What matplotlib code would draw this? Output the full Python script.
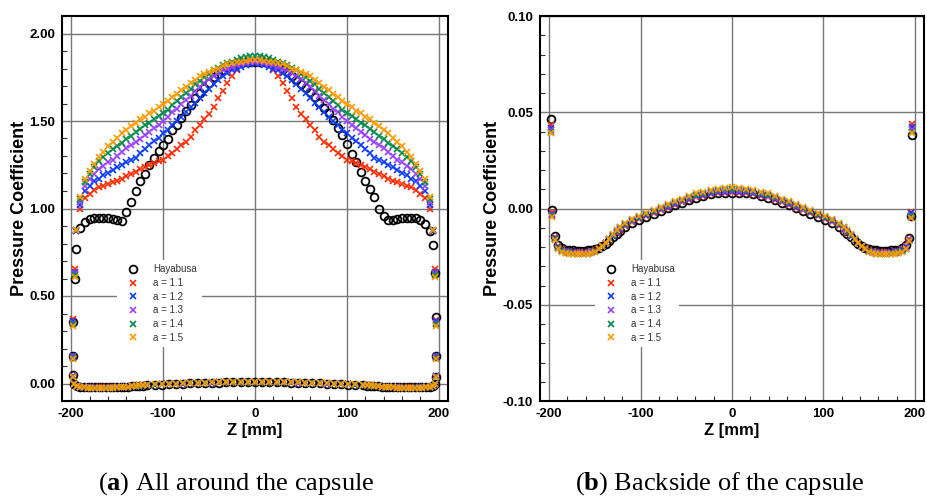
import matplotlib
matplotlib.use('Agg')
import matplotlib.pyplot as plt
from matplotlib.ticker import MultipleLocator, FormatStrFormatter

plt.rcParams['font.family'] = ['Liberation Sans', 'DejaVu Sans']
plt.rcParams['axes.unicode_minus'] = False
plt.rcParams['mathtext.fontset'] = 'custom'
plt.rcParams['mathtext.rm'] = 'Liberation Serif'
plt.rcParams['mathtext.bf'] = 'Liberation Serif:bold'

# ---------------- data ----------------
labels = ['Hayabusa', 'a = 1.1', 'a = 1.2', 'a = 1.3', 'a = 1.4', 'a = 1.5']
colors = ['black', '#ff2a00', '#0a3cff', '#9a40ff', '#00894a', '#ff9a00']

# front (heat shield) mesh, Z [mm]
z_front = list(range(-190, 195, 5))

haya_front = [0.89, 0.925, 0.94, 0.945, 0.946, 0.946, 0.945, 0.94, 0.935, 0.93,
              0.98, 1.04, 1.10, 1.16, 1.20, 1.25, 1.29, 1.33, 1.36, 1.40,
              1.45, 1.48, 1.52, 1.56, 1.59, 1.63, 1.66, 1.69, 1.72, 1.75,
              1.77, 1.79, 1.81, 1.82, 1.83, 1.835, 1.84, 1.84, 1.84,
              1.84, 1.84, 1.835, 1.83, 1.82, 1.80, 1.78, 1.76, 1.735, 1.71,
              1.69, 1.665, 1.635, 1.605, 1.575, 1.545, 1.505, 1.46, 1.42, 1.37,
              1.31, 1.265, 1.21, 1.16, 1.11, 1.065, 1.00, 0.96, 0.933, 0.935,
              0.94, 0.945, 0.946, 0.946, 0.945, 0.935, 0.91, 0.87]
a11_front = [1.00, 1.06, 1.085, 1.105, 1.12, 1.13, 1.14, 1.15, 1.16, 1.17,
             1.185, 1.20, 1.21, 1.225, 1.24, 1.25, 1.26, 1.27, 1.28, 1.30,
             1.32, 1.34, 1.36, 1.38, 1.41, 1.45, 1.48, 1.51, 1.54, 1.58,
             1.63, 1.67, 1.72, 1.76, 1.79, 1.82, 1.84, 1.85, 1.85,
             1.85, 1.84, 1.82, 1.79, 1.76, 1.72, 1.67, 1.63, 1.58, 1.54,
             1.51, 1.48, 1.45, 1.41, 1.38, 1.36, 1.34, 1.32, 1.30, 1.28,
             1.27, 1.26, 1.25, 1.24, 1.225, 1.21, 1.20, 1.185, 1.17, 1.16,
             1.15, 1.14, 1.13, 1.12, 1.105, 1.085, 1.06, 1.00]
a12_front = [1.02, 1.10, 1.13, 1.155, 1.17, 1.19, 1.205, 1.22, 1.235, 1.25,
             1.265, 1.275, 1.29, 1.315, 1.34, 1.36, 1.385, 1.405, 1.43, 1.45,
             1.475, 1.50, 1.525, 1.55, 1.58, 1.605, 1.63, 1.66, 1.685, 1.71,
             1.735, 1.76, 1.775, 1.79, 1.80, 1.81, 1.82, 1.825, 1.83,
             1.825, 1.82, 1.81, 1.80, 1.79, 1.775, 1.76, 1.735, 1.71, 1.685,
             1.66, 1.63, 1.605, 1.58, 1.55, 1.525, 1.50, 1.475, 1.45, 1.43,
             1.405, 1.385, 1.36, 1.34, 1.315, 1.29, 1.275, 1.265, 1.25, 1.235,
             1.22, 1.205, 1.19, 1.17, 1.155, 1.13, 1.10, 1.02]
a13_front = [1.04, 1.13, 1.17, 1.20, 1.225, 1.245, 1.265, 1.28, 1.30, 1.325,
             1.345, 1.36, 1.38, 1.40, 1.42, 1.44, 1.46, 1.48, 1.50, 1.525,
             1.55, 1.57, 1.595, 1.62, 1.645, 1.67, 1.695, 1.715, 1.74, 1.76,
             1.775, 1.79, 1.80, 1.81, 1.82, 1.825, 1.83, 1.835, 1.835,
             1.835, 1.83, 1.825, 1.82, 1.81, 1.80, 1.79, 1.775, 1.76, 1.74,
             1.715, 1.695, 1.67, 1.645, 1.62, 1.595, 1.57, 1.55, 1.525, 1.50,
             1.48, 1.46, 1.44, 1.42, 1.40, 1.38, 1.36, 1.345, 1.325, 1.30,
             1.28, 1.265, 1.245, 1.225, 1.20, 1.17, 1.13, 1.04]
a14_front = [1.055, 1.15, 1.20, 1.235, 1.27, 1.295, 1.315, 1.34, 1.355, 1.375,
             1.395, 1.415, 1.435, 1.455, 1.475, 1.49, 1.51, 1.53, 1.545, 1.565,
             1.59, 1.615, 1.64, 1.66, 1.685, 1.71, 1.73, 1.75, 1.77, 1.79,
             1.805, 1.82, 1.83, 1.84, 1.85, 1.86, 1.865, 1.87, 1.87,
             1.87, 1.865, 1.86, 1.85, 1.84, 1.83, 1.82, 1.805, 1.79, 1.77,
             1.75, 1.73, 1.71, 1.685, 1.66, 1.64, 1.615, 1.59, 1.565, 1.545,
             1.53, 1.51, 1.49, 1.475, 1.455, 1.435, 1.415, 1.395, 1.375, 1.355,
             1.34, 1.315, 1.295, 1.27, 1.235, 1.20, 1.15, 1.055]
a15_front = [1.065, 1.17, 1.215, 1.255, 1.295, 1.325, 1.355, 1.38, 1.405, 1.43,
             1.45, 1.47, 1.49, 1.51, 1.525, 1.545, 1.56, 1.58, 1.595, 1.615,
             1.635, 1.655, 1.675, 1.695, 1.715, 1.735, 1.755, 1.77, 1.78, 1.79,
             1.80, 1.815, 1.825, 1.83, 1.835, 1.84, 1.845, 1.85, 1.85,
             1.85, 1.845, 1.84, 1.835, 1.83, 1.825, 1.815, 1.80, 1.79, 1.78,
             1.77, 1.755, 1.735, 1.715, 1.695, 1.675, 1.655, 1.635, 1.615, 1.595,
             1.58, 1.56, 1.545, 1.525, 1.51, 1.49, 1.47, 1.45, 1.43, 1.405,
             1.38, 1.355, 1.325, 1.295, 1.255, 1.215, 1.17, 1.065]

# shoulder points (back -> front)
z_sh_left = [-196.5, -197.8, -198.2, -197.8, -196.0, -194.3]
z_sh_right = [195.8, 196.8, 197.3, 197.2, 196.0, 194.2]
haya_sh_l = [-0.0009, 0.0465, 0.155, 0.350, 0.595, 0.770]
a11_sh_l = [-0.0020, 0.0435, 0.160, 0.368, 0.655, 0.870]
a12_sh_l = [-0.0030, 0.0420, 0.155, 0.355, 0.640, 0.872]
a13_sh_l = [-0.0035, 0.0410, 0.150, 0.345, 0.630, 0.875]
a14_sh_l = [-0.0040, 0.0400, 0.145, 0.338, 0.620, 0.877]
a15_sh_l = [-0.0045, 0.0392, 0.140, 0.328, 0.607, 0.880]
haya_sh_r = [-0.0040, 0.0382, 0.155, 0.380, 0.630, 0.790]
a11_sh_r = [-0.0017, 0.0438, 0.160, 0.365, 0.652, 0.870]
a12_sh_r = [-0.0025, 0.0422, 0.155, 0.355, 0.640, 0.872]
a13_sh_r = [-0.0032, 0.0410, 0.150, 0.345, 0.630, 0.875]
a14_sh_r = [-0.0040, 0.0400, 0.145, 0.338, 0.620, 0.877]
a15_sh_r = [-0.0048, 0.0391, 0.140, 0.328, 0.610, 0.880]

# backside mesh, Z [mm]
z_back = [-194, -190, -186, -182, -178, -174, -170, -166, -162, -158,
          -154, -150, -146, -142, -138, -134, -130, -126, -122,
          -117, -109.2, -101.4, -93.6, -85.8, -78, -70.2, -62.4, -54.6, -46.8,
          -39, -31.2, -23.4, -15.6, -7.8, 0, 7.8, 15.6, 23.4, 31.2, 39,
          46.8, 54.6, 62.4, 70.2, 78, 85.8, 93.6, 101.4, 109.2, 117,
          122, 126, 130, 134, 138, 142, 146, 150, 154, 158,
          162, 166, 170, 174, 178, 182, 186, 190, 194]

haya_back = [-0.0142, -0.0190, -0.0207, -0.0213, -0.0216, -0.0218, -0.0219, -0.0219, -0.0219, -0.0218,
             -0.0216, -0.0212, -0.0205, -0.0195, -0.0182, -0.0167, -0.0150, -0.0132, -0.0115,
             -0.0097, -0.0077, -0.0060, -0.0043, -0.0028, -0.0013, 0.0001, 0.0017, 0.0030, 0.0044,
             0.0056, 0.0065, 0.0073, 0.0078, 0.0081, 0.0082, 0.0081, 0.0078, 0.0073, 0.0065, 0.0056,
             0.0044, 0.0030, 0.0017, 0.0001, -0.0013, -0.0028, -0.0043, -0.0060, -0.0077, -0.0097,
             -0.0115, -0.0132, -0.0150, -0.0167, -0.0182, -0.0195, -0.0205, -0.0212, -0.0216, -0.0218,
             -0.0219, -0.0219, -0.0219, -0.0218, -0.0216, -0.0213, -0.0207, -0.0192, -0.0155]
a11_back = [-0.0150, -0.0195, -0.0212, -0.0219, -0.0222, -0.0224, -0.0225, -0.0225, -0.0225, -0.0224,
            -0.0221, -0.0216, -0.0207, -0.0195, -0.0180, -0.0163, -0.0145, -0.0127, -0.0110,
            -0.0092, -0.0072, -0.0055, -0.0039, -0.0024, -0.0010, 0.0004, 0.0019, 0.0032, 0.0046,
            0.0058, 0.0067, 0.0075, 0.0080, 0.0083, 0.0084, 0.0083, 0.0080, 0.0075, 0.0067, 0.0058,
            0.0046, 0.0032, 0.0019, 0.0004, -0.0010, -0.0024, -0.0039, -0.0055, -0.0072, -0.0092,
            -0.0110, -0.0127, -0.0145, -0.0163, -0.0180, -0.0195, -0.0207, -0.0216, -0.0221, -0.0224,
            -0.0225, -0.0225, -0.0225, -0.0224, -0.0222, -0.0219, -0.0212, -0.0197, -0.0160]
a12_back = [-0.0155, -0.0200, -0.0217, -0.0223, -0.0226, -0.0228, -0.0229, -0.0229, -0.0229, -0.0228,
            -0.0225, -0.0219, -0.0209, -0.0196, -0.0180, -0.0162, -0.0143, -0.0124, -0.0106,
            -0.0087, -0.0067, -0.0050, -0.0034, -0.0019, -0.0005, 0.0009, 0.0024, 0.0037, 0.0051,
            0.0063, 0.0072, 0.0080, 0.0085, 0.0088, 0.0089, 0.0088, 0.0085, 0.0080, 0.0072, 0.0063,
            0.0051, 0.0037, 0.0024, 0.0009, -0.0005, -0.0019, -0.0034, -0.0050, -0.0067, -0.0087,
            -0.0106, -0.0124, -0.0143, -0.0162, -0.0180, -0.0196, -0.0209, -0.0219, -0.0225, -0.0228,
            -0.0229, -0.0229, -0.0229, -0.0228, -0.0226, -0.0223, -0.0217, -0.0202, -0.0163]
a13_back = [-0.0158, -0.0203, -0.0220, -0.0226, -0.0229, -0.0231, -0.0232, -0.0232, -0.0232, -0.0231,
            -0.0227, -0.0221, -0.0210, -0.0196, -0.0179, -0.0160, -0.0140, -0.0121, -0.0102,
            -0.0083, -0.0063, -0.0046, -0.0030, -0.0015, -0.0001, 0.0013, 0.0028, 0.0041, 0.0055,
            0.0067, 0.0077, 0.0085, 0.0090, 0.0093, 0.0094, 0.0093, 0.0090, 0.0085, 0.0077, 0.0067,
            0.0055, 0.0041, 0.0028, 0.0013, -0.0001, -0.0015, -0.0030, -0.0046, -0.0063, -0.0083,
            -0.0102, -0.0121, -0.0140, -0.0160, -0.0179, -0.0196, -0.0210, -0.0221, -0.0227, -0.0231,
            -0.0232, -0.0232, -0.0232, -0.0231, -0.0229, -0.0226, -0.0220, -0.0205, -0.0166]
a14_back = [-0.0160, -0.0206, -0.0223, -0.0229, -0.0232, -0.0234, -0.0235, -0.0235, -0.0235, -0.0234,
            -0.0230, -0.0223, -0.0211, -0.0196, -0.0178, -0.0158, -0.0137, -0.0117, -0.0098,
            -0.0079, -0.0059, -0.0042, -0.0026, -0.0011, 0.0003, 0.0017, 0.0032, 0.0046, 0.0060,
            0.0072, 0.0082, 0.0090, 0.0096, 0.0099, 0.0100, 0.0099, 0.0096, 0.0090, 0.0082, 0.0072,
            0.0060, 0.0046, 0.0032, 0.0017, 0.0003, -0.0011, -0.0026, -0.0042, -0.0059, -0.0079,
            -0.0098, -0.0117, -0.0137, -0.0158, -0.0178, -0.0196, -0.0211, -0.0223, -0.0230, -0.0234,
            -0.0235, -0.0235, -0.0235, -0.0234, -0.0232, -0.0229, -0.0223, -0.0208, -0.0168]
a15_back = [-0.0163, -0.0209, -0.0226, -0.0232, -0.0235, -0.0237, -0.0238, -0.0238, -0.0238, -0.0237,
            -0.0233, -0.0225, -0.0212, -0.0196, -0.0177, -0.0156, -0.0134, -0.0113, -0.0094,
            -0.0075, -0.0055, -0.0038, -0.0022, -0.0007, 0.0008, 0.0022, 0.0037, 0.0051, 0.0065,
            0.0078, 0.0088, 0.0097, 0.0103, 0.0107, 0.0110, 0.0107, 0.0103, 0.0097, 0.0088, 0.0078,
            0.0065, 0.0051, 0.0037, 0.0022, 0.0008, -0.0007, -0.0022, -0.0038, -0.0055, -0.0075,
            -0.0094, -0.0113, -0.0134, -0.0156, -0.0177, -0.0196, -0.0212, -0.0225, -0.0233, -0.0237,
            -0.0238, -0.0238, -0.0238, -0.0237, -0.0235, -0.0232, -0.0226, -0.0211, -0.0171]

front_data = [haya_front, a11_front, a12_front, a13_front, a14_front, a15_front]
back_data = [haya_back, a11_back, a12_back, a13_back, a14_back, a15_back]
shl_data = [haya_sh_l, a11_sh_l, a12_sh_l, a13_sh_l, a14_sh_l, a15_sh_l]
shr_data = [haya_sh_r, a11_sh_r, a12_sh_r, a13_sh_r, a14_sh_r, a15_sh_r]

# ---------------- figure ----------------
W, H = 927, 501
fig = plt.figure(figsize=(W / 100, H / 100), dpi=100)
ax1 = fig.add_axes([62 / W, 1 - 401 / H, 386 / W, 385 / H])
ax2 = fig.add_axes([540 / W, 1 - 401 / H, 384 / W, 385 / H])


def draw(ax):
    for i, lab in enumerate(labels):
        z = z_sh_left + z_front + z_sh_right + z_back
        cp = shl_data[i] + front_data[i] + shr_data[i] + back_data[i]
        if i == 0:
            ax.plot(z, cp, linestyle='none', marker='o', ms=5.6, mfc='none',
                    mec='black', mew=1.3, label=lab, zorder=3)
        else:
            ax.plot(z, cp, linestyle='none', marker='x', ms=4.3,
                    mec=colors[i], mew=1.2, label=lab, zorder=3 + i)


def style(ax, ylim, ymajor, yminor):
    ax.set_xlim(-210, 210)
    ax.set_ylim(*ylim)
    ax.xaxis.set_major_locator(MultipleLocator(100))
    ax.xaxis.set_minor_locator(MultipleLocator(20))
    ax.yaxis.set_major_locator(MultipleLocator(ymajor))
    ax.yaxis.set_minor_locator(MultipleLocator(yminor))
    ax.yaxis.set_major_formatter(FormatStrFormatter('%.2f'))
    ax.grid(True, which='major', color='#777777', linewidth=1.0, zorder=1)
    ax.set_axisbelow(True)
    ax.tick_params(which='both', direction='in', top=False, right=False)
    ax.tick_params(which='major', length=0, pad=5, labelsize=9.5)
    ax.tick_params(which='minor', length=3.5, width=0.8, color='#333333')
    for lab in ax.get_xticklabels() + ax.get_yticklabels():
        lab.set_fontweight('bold')
    for s in ax.spines.values():
        s.set_linewidth(1.5)
        s.set_color('#000000')
    ax.set_xlabel('Z [mm]', fontsize=12, fontweight='bold', labelpad=2)
    ax.set_ylabel('Pressure Coefficient', fontsize=13, fontweight='bold', labelpad=1)
    leg = ax.legend(loc='lower left', bbox_to_anchor=(0.1425, 0.14),
                    frameon=True, facecolor='white', edgecolor='none',
                    framealpha=1, fontsize=7, handlelength=2.4,
                    handletextpad=0.9, labelspacing=0.38, borderpad=0.45,
                    borderaxespad=0, numpoints=1, fancybox=False)
    for t in leg.get_texts():
        t.set_color('#333333')
    leg.set_zorder(20)


draw(ax1)
style(ax1, (-0.1, 2.1), 0.5, 0.1)
draw(ax2)
style(ax2, (-0.1, 0.1), 0.05, 0.01)

fig.text(236 / W, 1 - 484 / H, r'($\mathbf{a}$) All around the capsule',
         family='Liberation Serif', fontsize=19, ha='center', va='center')
fig.text(720 / W, 1 - 484 / H, r'($\mathbf{b}$) Backside of the capsule',
         family='Liberation Serif', fontsize=19, ha='center', va='center')

fig.savefig('out.png', dpi=100)
